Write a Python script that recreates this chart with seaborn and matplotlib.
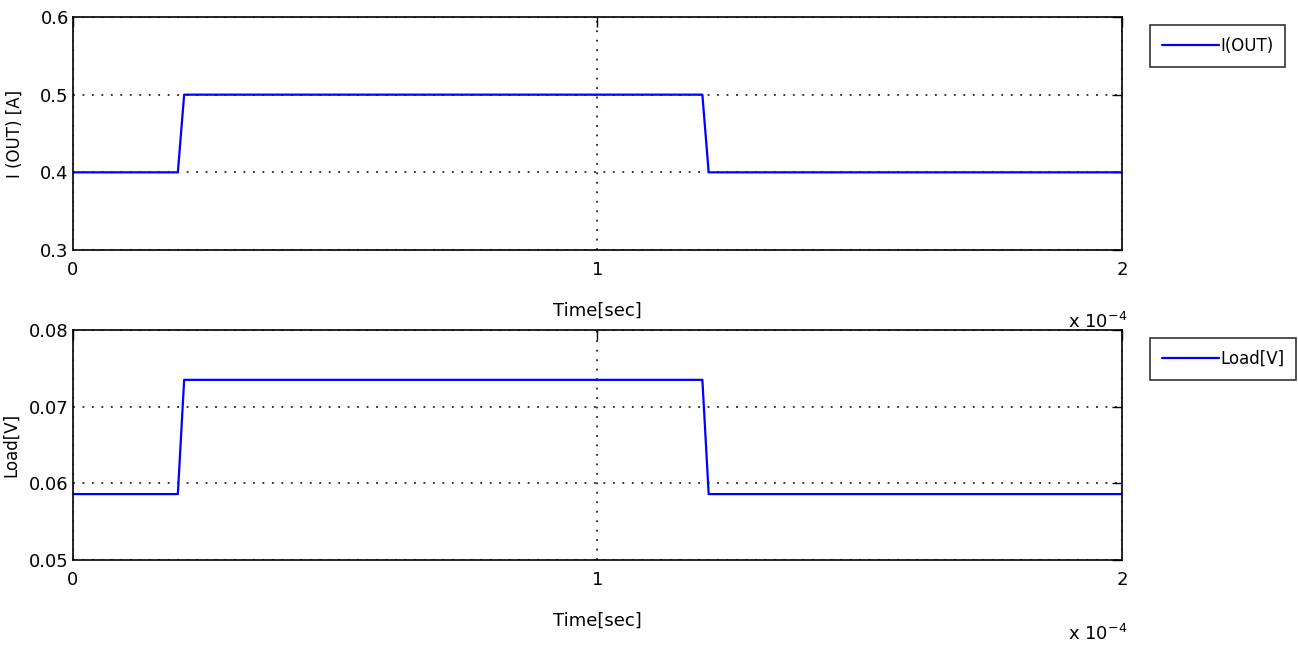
import numpy as np
import pandas as pd
import matplotlib
matplotlib.use("Agg")
import matplotlib.pyplot as plt
import seaborn as sns
from matplotlib.ticker import FuncFormatter

# data (time in seconds)
time_s = [0.0, 0.200e-4, 0.212e-4, 1.200e-4, 1.212e-4, 2.0e-4]
i_out = [0.4, 0.4, 0.5, 0.5, 0.4, 0.4]
load_v = [0.0586, 0.0586, 0.0735, 0.0735, 0.0586, 0.0586]

sns.set_style("white")
plt.rcParams['font.family'] = ['DejaVu Sans']
plt.rcParams['text.color'] = 'black'
plt.rcParams['axes.labelcolor'] = 'black'

fig = plt.figure(figsize=(12.98, 6.49), dpi=100)
ax1 = fig.add_axes([0.0562, 0.6148, 0.8082, 0.3590])
ax2 = fig.add_axes([0.0562, 0.1371, 0.8082, 0.3544])

df = pd.DataFrame({"Time": time_s, "I(OUT)": i_out, "Load[V]": load_v})

panels = [
    (ax1, "I(OUT)", "I (OUT) [A]", [0.3, 0.4, 0.5, 0.6], ["0.3", "0.4", "0.5", "0.6"], 322, -0.047),
    (ax2, "Load[V]", "Load[V]", [0.05, 0.06, 0.07, 0.08], ["0.05", "0.06", "0.07", "0.08"], 634, -0.050),
]

for ax, col, ylab, yt, ytl, offy, ylx in panels:
    sns.lineplot(data=df, x="Time", y=col, ax=ax, color="#0000ff", lw=1.6,
                 label=col, sort=False)
    ax.set_xlim(0, 2e-4)
    ax.set_ylim(yt[0], yt[-1])
    ax.set_xticks([0, 1e-4, 2e-4])
    ax.xaxis.set_major_formatter(FuncFormatter(lambda v, p: f"{v/1e-4:.0f}"))
    ax.set_yticks(yt)
    ax.set_yticklabels(ytl)
    ax.grid(True, color="black", linestyle=(0, (1.2, 5)), linewidth=1.1)
    ax.tick_params(direction="in", length=7, width=1, top=True, right=True,
                   labelsize=13, colors="black", pad=3)
    ax.tick_params(axis="x", pad=8)
    for s in ax.spines.values():
        s.set_color("black")
        s.set_linewidth(1.2)
    ax.set_xlabel("Time[sec]", fontsize=13, labelpad=16)
    ax.set_ylabel(ylab, fontsize=12)
    ax.yaxis.set_label_coords(ylx, 0.5)
    leg = ax.legend(loc="upper left", bbox_to_anchor=(1.019, 1.0), fontsize=12,
                    frameon=True, fancybox=False, edgecolor="black",
                    handlelength=3.4, borderpad=0.7, handletextpad=0.1)
    leg.get_frame().set_linewidth(1.2)
    fig.text(1068 / 1298, 1 - offy / 649, r"x 10$^{-4}$", fontsize=13,
             ha="left", va="center")

fig.savefig("out.png", dpi=100)
